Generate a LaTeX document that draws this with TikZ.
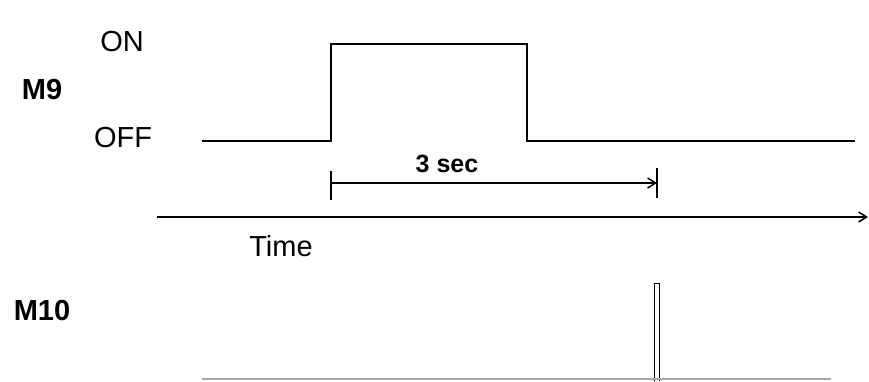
\documentclass[tikz,border=0pt]{standalone}
\usepackage{fontspec}
\setmainfont{Liberation Sans}
\usetikzlibrary{arrows.meta,positioning}

\begin{document}
\begin{tikzpicture}[x=1pt, y=-1pt, >={Straight Barb[length=8pt,width=10pt]},
    lbl/.style={font=\fontsize{29}{30}\selectfont, inner sep=0pt},
    sig/.style={font=\fontsize{29}{30}\selectfont\bfseries, inner sep=0pt},
    wave/.style={line width=1.5pt}]
    \useasboundingbox (0,0) rectangle (869,381);
    % labels
    \node[sig] (m9) at (42,90) {M9};
    \node[lbl] (on) at (122,42) {ON};
    \node[lbl] (off) at (123,138) {OFF};
    \node[lbl] (time) at (281,246) {Time};
    \node[sig] (m10) at (42,311) {M10};
    \node[inner sep=0pt, font=\fontsize{25}{26}\selectfont\bfseries] (dur) at (447,164) {3 sec};
    % M9 waveform
    \coordinate (rise) at (331,141);
    \coordinate (fall) at (527,141);
    \draw[wave] (202,141) -- (rise) -- (331,44) -- (527,44) -- (fall) -- (855,141);
    % 3 sec interval
    \coordinate (t0) at (331,183);
    \coordinate (t1) at (657,183);
    \draw[wave] (331,171) -- (331,200);
    \draw[wave] (657,168) -- (657,198);
    \draw[wave, ->] (t0) -- (t1);
    % time axis
    \draw[wave, ->] (157,217) -- (868,217);
    % M10 pulse
    \draw[line width=1pt] (654,381) -- (654,283) -- (659,283) -- (659,381);
    \draw[line width=1.5pt, color=gray!70] (202,379) -- (831,379);
  \end{tikzpicture}
\end{document}
